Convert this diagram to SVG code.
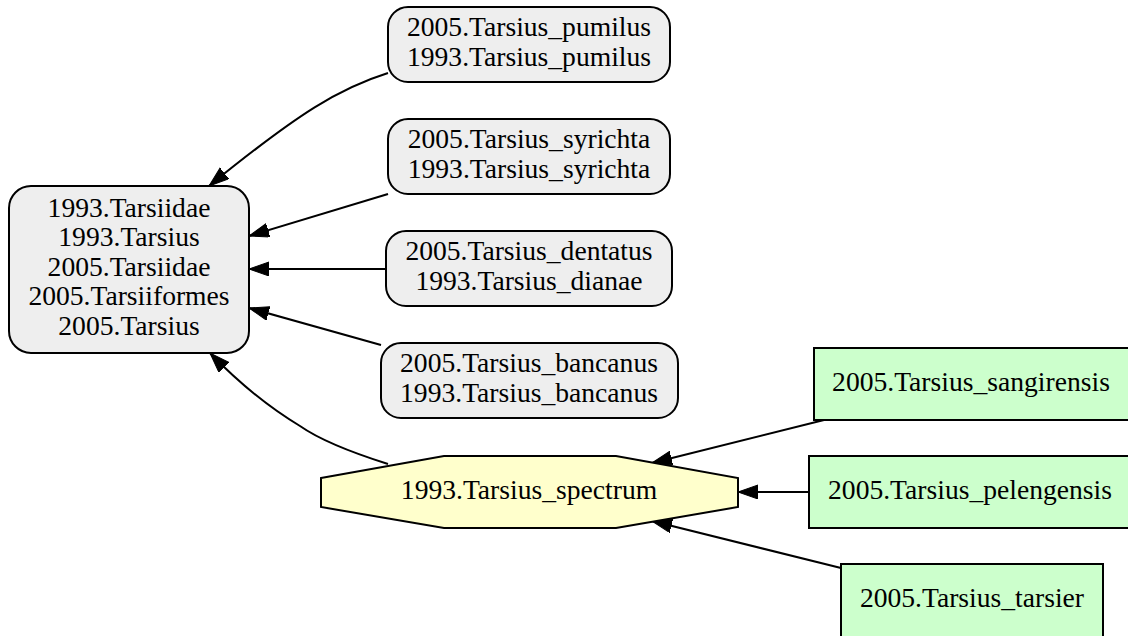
<svg xmlns="http://www.w3.org/2000/svg" width="1128" height="636" viewBox="0 0 1128 636">
<defs>
<style>
text{font-family:"Liberation Serif","Times New Roman",serif;font-size:27.6px;fill:#000;text-anchor:middle}
.g{fill:#eeeeee;stroke:#000;stroke-width:2}
.y{fill:#ffffcc;stroke:#000;stroke-width:2}
.n{fill:#ccffcc;stroke:#000;stroke-width:2}
.e{fill:none;stroke:#000;stroke-width:2}
</style>
<marker id="ah" markerUnits="userSpaceOnUse" markerWidth="22" markerHeight="16" refX="20" refY="7" orient="auto">
<path d="M0,0 L20,7 L0,14 Z" fill="#000" stroke="#000" stroke-width="1"/>
</marker>
</defs>
<rect width="1128" height="636" fill="#fff"/>
<g id="edges">
<path class="e" marker-end="url(#ah)" d="M388,73 C340,88 300,112 209,186"/>
<path class="e" marker-end="url(#ah)" d="M388,194 L249,236"/>
<path class="e" marker-end="url(#ah)" d="M386,269 L249,269"/>
<path class="e" marker-end="url(#ah)" d="M381,345 L249,308"/>
<path class="e" marker-end="url(#ah)" d="M388,464 C350,452 320,440 300,426 C270,408 240,384 210,353"/>
<path class="e" marker-end="url(#ah)" d="M824,420 L652,463"/>
<path class="e" marker-end="url(#ah)" d="M809,492 L738,492"/>
<path class="e" marker-end="url(#ah)" d="M841,568 L652,521"/>
</g>
<g id="tarsiidae">
<rect class="g" x="9" y="186" width="240" height="167" rx="22"/>
<text x="129" y="216.7">1993.Tarsiidae</text>
<text x="129" y="246">1993.Tarsius</text>
<text x="129" y="275.5">2005.Tarsiidae</text>
<text x="129" y="305">2005.Tarsiiformes</text>
<text x="129" y="334.5">2005.Tarsius</text>
</g>
<g id="pumilus">
<rect class="g" x="388" y="7" width="282" height="75" rx="20"/>
<text x="529" y="36">2005.Tarsius_pumilus</text>
<text x="529" y="66">1993.Tarsius_pumilus</text>
</g>
<g id="syrichta">
<rect class="g" x="388" y="119" width="282" height="75" rx="20"/>
<text x="529" y="148">2005.Tarsius_syrichta</text>
<text x="529" y="178">1993.Tarsius_syrichta</text>
</g>
<g id="dentatus">
<rect class="g" x="386" y="231" width="286" height="75" rx="20"/>
<text x="529" y="260">2005.Tarsius_dentatus</text>
<text x="529" y="290">1993.Tarsius_dianae</text>
</g>
<g id="bancanus">
<rect class="g" x="381" y="343" width="297" height="75" rx="20"/>
<text x="529" y="372">2005.Tarsius_bancanus</text>
<text x="529" y="402">1993.Tarsius_bancanus</text>
</g>
<g id="spectrum">
<polygon class="y" points="321,478 444,456 616,456 738,478 738,507 616,528 444,528 321,507"/>
<text x="529" y="499.3">1993.Tarsius_spectrum</text>
</g>
<g id="sangirensis">
<rect class="n" x="814" y="348" width="316" height="72"/>
<text x="971" y="391">2005.Tarsius_sangirensis</text>
</g>
<g id="pelengensis">
<rect class="n" x="809" y="456" width="321" height="72"/>
<text x="970" y="499">2005.Tarsius_pelengensis</text>
</g>
<g id="tarsier">
<rect class="n" x="841" y="564" width="262" height="74"/>
<text x="972" y="607">2005.Tarsius_tarsier</text>
</g>
</svg>
